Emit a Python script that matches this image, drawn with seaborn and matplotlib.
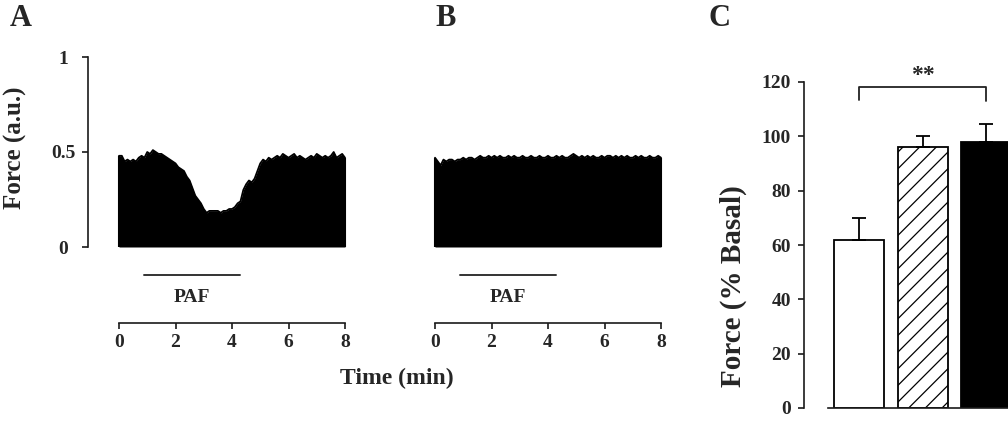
import numpy as np
import pandas as pd
import matplotlib
matplotlib.use("Agg")
import matplotlib.pyplot as plt
import seaborn as sns

# ---------------- data ----------------
time_min = np.round(np.arange(0, 8.01, 0.1), 2)

force_a = [0.48, 0.48, 0.45, 0.46, 0.45, 0.46, 0.45, 0.47, 0.48, 0.47,
           0.50, 0.49, 0.51, 0.50, 0.49, 0.49, 0.48, 0.47, 0.46, 0.45,
           0.44, 0.42, 0.41, 0.40, 0.37, 0.35, 0.31, 0.27, 0.25, 0.23,
           0.20, 0.18, 0.19, 0.19, 0.19, 0.19, 0.18, 0.19, 0.19, 0.20,
           0.20, 0.21, 0.23, 0.24, 0.30, 0.33, 0.35, 0.34, 0.36, 0.40,
           0.44, 0.46, 0.45, 0.47, 0.46, 0.47, 0.48, 0.47, 0.49, 0.48,
           0.47, 0.48, 0.49, 0.47, 0.48, 0.47, 0.46, 0.47, 0.48, 0.47,
           0.49, 0.48, 0.47, 0.48, 0.47, 0.48, 0.50, 0.47, 0.48, 0.49,
           0.47]

force_b = [0.47, 0.45, 0.43, 0.46, 0.45, 0.46, 0.46, 0.45, 0.46, 0.46,
           0.47, 0.46, 0.47, 0.47, 0.46, 0.47, 0.48, 0.47, 0.47, 0.48,
           0.47, 0.48, 0.47, 0.48, 0.47, 0.47, 0.48, 0.47, 0.48, 0.47,
           0.47, 0.48, 0.47, 0.47, 0.48, 0.47, 0.47, 0.48, 0.47, 0.47,
           0.48, 0.47, 0.47, 0.48, 0.47, 0.48, 0.47, 0.47, 0.48, 0.49,
           0.48, 0.47, 0.48, 0.47, 0.48, 0.47, 0.48, 0.47, 0.47, 0.48,
           0.47, 0.48, 0.48, 0.47, 0.48, 0.47, 0.48, 0.47, 0.48, 0.47,
           0.47, 0.48, 0.47, 0.48, 0.47, 0.47, 0.48, 0.47, 0.47, 0.48,
           0.47]

paf_start, paf_end = 0.9, 4.27
time_ticks = [0, 2, 4, 6, 8]
force_ticks = [0, 0.5, 1]
force_tick_labels = ["0", "0.5", "1"]

conditions = ["PAF", "PAF + inhibitor", "Control"]
basal_pct = [62, 96, 98]
basal_sem = [8, 4, 6.5]
pct_ticks = [0, 20, 40, 60, 80, 100, 120]
sig_label = "**"

# ---------------- style ----------------
sns.set_theme(style="ticks")
plt.rcParams['font.family'] = ['Liberation Serif', 'DejaVu Serif']
plt.rcParams['font.weight'] = 'bold'
plt.rcParams['hatch.linewidth'] = 0.9
plt.rcParams['hatch.color'] = 'black'
INK = '#1a1a1a'

W, H = 1008, 421
fig = plt.figure(figsize=(W / 100, H / 100), dpi=100)


def rect(x0, y0, x1, y1):
    return [x0 / W, (H - y1) / H, (x1 - x0) / W, (y1 - y0) / H]


# mapping: t=0 -> 31 px from axes left, 28.25 px / min
scale = 28.25
xl = (-31 / scale, (262 - 31) / scale)


def trace_panel(left_px, force, show_y):
    ax = fig.add_axes(rect(left_px, 57, left_px + 262, 247))
    df = pd.DataFrame({"t": time_min, "f": force})
    ax.fill_between(df["t"], 0, df["f"], color="black", lw=0)
    sns.lineplot(data=df, x="t", y="f", ax=ax, color="black", lw=1.3)
    ax.vlines([df["t"].iloc[0], df["t"].iloc[-1]], 0,
              [df["f"].iloc[0], df["f"].iloc[-1]], color="black", lw=1.5)
    ax.set_xlim(*xl)
    ax.set_ylim(0, 1)
    ax.set_xlabel("")
    ax.set_ylabel("")
    ax.set_xticks([])
    for s in ["top", "right", "bottom"]:
        ax.spines[s].set_visible(False)
    if show_y:
        ax.spines["left"].set_color(INK)
        ax.spines["left"].set_linewidth(1.2)
        ax.set_yticks(force_ticks)
        ax.set_yticklabels(force_tick_labels, fontsize=14, fontweight="bold")
        ax.tick_params(axis="y", length=4.5, width=1.2, color=INK, pad=13.5)
        for lab in ax.get_yticklabels():
            lab.set_horizontalalignment("center")
    else:
        ax.spines["left"].set_visible(False)
        ax.set_yticks([])
    ax.patch.set_alpha(0)

    axt = fig.add_axes(rect(left_px, 260, left_px + 262, 323))
    axt.set_xlim(*xl)
    axt.set_ylim(0, 1)
    axt.plot([paf_start, paf_end], [0.76, 0.76], color="#333333", lw=1.4)
    axt.text((paf_start + paf_end) / 2, 0.40, "PAF", ha="center", va="center",
             fontsize=14, fontweight="bold")
    for s in ["top", "right", "left"]:
        axt.spines[s].set_visible(False)
    axt.spines["bottom"].set_bounds(time_ticks[0], time_ticks[-1])
    axt.spines["bottom"].set_color(INK)
    axt.spines["bottom"].set_linewidth(1.2)
    axt.set_yticks([])
    axt.set_xticks(time_ticks)
    axt.set_xticklabels([str(t) for t in time_ticks], fontsize=14,
                        fontweight="bold")
    axt.tick_params(axis="x", length=4, width=1.2, color=INK, pad=4)
    axt.patch.set_alpha(0)
    return ax


trace_panel(88, force_a, True)
trace_panel(404, force_b, False)

# ---------------- panel C ----------------
cpos0 = 859
cscale = 63.5
axc = fig.add_axes(rect(804, 82, 1060, 408))
bdf = pd.DataFrame({"cond": conditions, "pct": basal_pct, "sem": basal_sem})
sns.barplot(data=bdf, x="cond", y="pct", ax=axc, width=50 / cscale,
            color="white", edgecolor="black", linewidth=1.3, errorbar=None,
            saturation=1)
fills = ["white", "white", "black"]
hatches = [None, "//", None]
for p, fc, h in zip(axc.patches, fills, hatches):
    p.set_facecolor(fc)
    p.set_edgecolor("black")
    if h:
        p.set_hatch(h)
xs = np.arange(len(conditions))
axc.errorbar(xs, bdf["pct"], yerr=[np.zeros(len(xs)), bdf["sem"]],
             fmt="none", ecolor="black", elinewidth=1.3, capsize=5,
             capthick=1.3, zorder=1)
axc.set_xlim(-(cpos0 - 804) / cscale, (1060 - cpos0) / cscale)
axc.set_ylim(0, 120)
axc.set_xlabel("")
axc.set_ylabel("")
axc.set_xticks([])
axc.set_yticks(pct_ticks)
axc.set_yticklabels([str(v) for v in pct_ticks], fontsize=14,
                    fontweight="bold")
axc.tick_params(axis="y", length=4.5, width=1.2, color=INK, pad=5)
axc.spines["top"].set_visible(False)
axc.spines["right"].set_visible(False)
axc.spines["left"].set_color(INK)
axc.spines["left"].set_linewidth(1.2)
axc.spines["bottom"].set_color(INK)
axc.spines["bottom"].set_linewidth(1.2)
axc.spines["bottom"].set_bounds(-(cpos0 - 828) / cscale, 4)
axc.plot([0, 0, 2, 2], [113.5, 118, 118, 113], color="#222222", lw=1.3,
         clip_on=False)
axc.text(1, 122.5, sig_label, ha="center", va="center", fontsize=17,
         fontweight="bold", clip_on=False)
axc.patch.set_alpha(0)

# ---------------- text ----------------
fig.text(21 / W, 1 - 18 / H, "A", ha="center", va="center", fontsize=22,
         fontweight="bold")
fig.text(446 / W, 1 - 18 / H, "B", ha="center", va="center", fontsize=22,
         fontweight="bold")
fig.text(719 / W, 1 - 19 / H, "C", ha="center", va="center", fontsize=22,
         fontweight="bold")
fig.text(15 / W, 1 - 148 / H, "Force (a.u.)", rotation=90, ha="center",
         va="center", fontsize=18, fontweight="bold")
fig.text(733 / W, 1 - 286 / H, "Force (% Basal)", rotation=90, ha="center",
         va="center", fontsize=21, fontweight="bold")
fig.text(397 / W, 1 - 378 / H, "Time (min)", ha="center", va="center",
         fontsize=17, fontweight="bold")

fig.savefig("out.png", dpi=100, facecolor="white")
